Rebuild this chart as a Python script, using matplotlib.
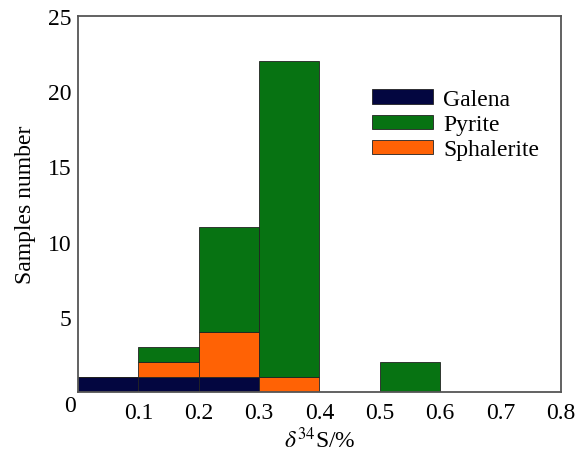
import numpy as np
import matplotlib.pyplot as plt

plt.rcParams['font.family'] = ['Liberation Serif', 'DejaVu Serif']
plt.rcParams['mathtext.fontset'] = 'stix'

bins = [0.0, 0.1, 0.2, 0.3, 0.4, 0.5]
galena = [1, 1, 1, 0, 0, 0]
sphalerite = [0, 1, 3, 1, 0, 0]
pyrite = [0, 1, 7, 21, 0, 2]
xticks = [0.1, 0.2, 0.3, 0.4, 0.5, 0.6, 0.7, 0.8]
yticks = [5, 10, 15, 20, 25]

c_gal = '#030640'
c_pyr = '#077312'
c_sph = '#ff6205'

fs = 17
fig = plt.figure(figsize=(5.83, 4.52), dpi=100)
ax = fig.add_axes([0.134, 0.1305, 0.828, 0.832])

b = np.array(bins)
g = np.array(galena)
s = np.array(sphalerite)
p = np.array(pyrite)
w = 0.1
kw = dict(width=w, align='edge', edgecolor='#222222', linewidth=0.6)
h1 = ax.bar(b, g, color=c_gal, **kw)
h3 = ax.bar(b, s, bottom=g, color=c_sph, **kw)
h2 = ax.bar(b, p, bottom=g + s, color=c_pyr, **kw)

ax.set_xlim(0, 0.8)
ax.set_ylim(0, 25)
ax.set_xticks(xticks)
ax.set_xticklabels([f'{t:.1f}' for t in xticks])
ax.set_yticks(yticks)
ax.tick_params(length=0, labelsize=fs)
ax.tick_params(axis='x', pad=7)
ax.tick_params(axis='y', pad=5)
ax.text(-0.017, -0.035, '0', transform=ax.transAxes, ha='center', va='center', fontsize=fs)

for sp in ax.spines.values():
    sp.set_color('#555555')
    sp.set_linewidth(1.3)

ax.set_ylabel('Samples number', fontsize=fs, labelpad=8)
ax.set_xlabel(r'$\delta^{34}$S/%', fontsize=fs, labelpad=3)

ax.legend([h1, h2, h3], ['Galena', 'Pyrite', 'Sphalerite'], frameon=False,
          fontsize=fs, loc='upper left', bbox_to_anchor=(0.6087, 0.806),
          borderpad=0, borderaxespad=0,
          handlelength=2.6, handleheight=0.55, labelspacing=0.18, handletextpad=0.42)

fig.savefig('out.png', dpi=100)
